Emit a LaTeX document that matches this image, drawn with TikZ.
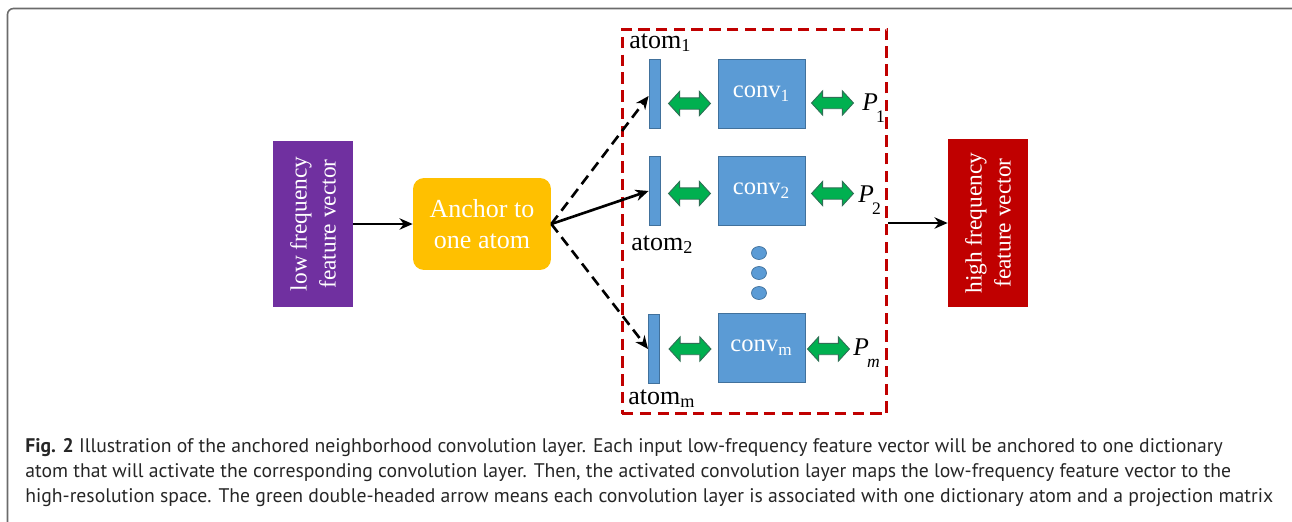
\documentclass[tikz,border=0pt]{standalone}
\usepackage{fontspec}
\setmainfont{Liberation Serif}
\newfontfamily\capfont{PT Sans}
\usetikzlibrary{arrows.meta,shapes.arrows,shapes.geometric}
\definecolor{lowpurple}{HTML}{7030A0}
\definecolor{anchorgold}{HTML}{FFC000}
\definecolor{highred}{HTML}{C00000}
\definecolor{convblue}{HTML}{5B9BD5}
\definecolor{convedge}{HTML}{41719C}
\definecolor{arrgreen}{HTML}{00B050}
\definecolor{arredge}{HTML}{2F6F55}
\definecolor{framegray}{HTML}{6B6B6B}
\newcommand\fs[2]{\fontsize{#1}{#2}\selectfont}
\tikzset{
  vecbox/.style={rectangle, rotate=90, inner sep=0pt, text=white, align=center,
     font=\fs{13.3pt}{16.5pt}},
  anchorbox/.style={rectangle, rounded corners=0.22cm, fill=anchorgold, inner sep=0pt,
     minimum width=2.76cm, minimum height=1.84cm, text=white, align=center, font=\fs{14.8pt}{17.6pt}},
  atombar/.style={rectangle, fill=convblue, draw=convedge, line width=0.5pt, inner sep=0pt,
     minimum width=0.22cm, minimum height=1.38cm},
  convbox/.style={rectangle, fill=convblue, draw=convedge, line width=0.3pt, inner sep=0pt,
     minimum width=1.74cm, minimum height=1.38cm, text=white, font=\fs{14pt}{16pt}},
  dblarr/.style={double arrow, fill=arrgreen, draw=arredge, line width=0.5pt, inner xsep=0pt,
     inner ysep=0.105cm, minimum height=0.84cm, double arrow head extend=0.13cm,
     double arrow tip angle=95},
  dotball/.style={ellipse, fill=convblue, draw=convedge, line width=0.4pt, inner sep=0pt,
     minimum width=0.3cm, minimum height=0.26cm},
  lbl/.style={inner sep=0pt, anchor=base west, font=\fs{14.8pt}{17pt}},
  plbl/.style={inner sep=0pt, anchor=base west, font=\fs{14.5pt}{17pt}},
  conn/.style={line width=1.5pt, -{Stealth[length=7.5pt,width=6.5pt]}},
  dconn/.style={conn, dash pattern=on 6pt off 3.5pt},
  capline/.style={inner sep=0pt, anchor=base west, font=\capfont\fs{11.2pt}{13pt}, text=black!85}
}
\begin{document}
\begin{tikzpicture}[x=0.02cm, y=-0.02cm]
\useasboundingbox (0,0) rectangle (1292,521);
% outer frame
\draw[framegray, line width=0.9pt, rounded corners=0.12cm] (7.5,540) -- (7.5,8.5) -- (1310,8.5);

% input / output vectors
\node[vecbox, fill=lowpurple, minimum width=3.32cm, minimum height=1.6cm] (low) at (313,224)
  {low frequency\\feature vector};
\node[anchorbox] (anc) at (482,224) {Anchor to\\one atom};
\node[vecbox, fill=highred, minimum width=3.36cm, minimum height=1.6cm] (high) at (988,223)
  {high frequency\\feature vector};

% dashed group
\node[rectangle, draw=highred, line width=1.7pt, dash pattern=on 6.5pt off 3.6pt,
  minimum width=5.3cm, minimum height=7.7cm, inner sep=0pt] (grp) at (754.5,221.5) {};

% atoms
\node[atombar] (a1) at (654.5,93.5) {};
\node[atombar] (a2) at (654.5,191) {};
\node[atombar] (am) at (654,349) {};
\node[lbl] (la1) at (629,48) {atom\textsubscript{1}};
\node[lbl] (la2) at (631,250) {atom\textsubscript{2}};
\node[lbl] (lam) at (628,404) {atom\textsubscript{m}};

% conv boxes
\node[convbox] (c1) at (761.5,93.5) {conv\textsubscript{1}};
\node[convbox] (c2) at (761.5,190.5) {conv\textsubscript{2}};
\node[convbox] (cm) at (761.5,348) {conv\textsubscript{m}};

% dots
\node[dotball] (d1) at (759,253) {};
\node[dotball] (d2) at (759,273) {};
\node[dotball] (d3) at (759,293) {};

% green double arrows
\node[dblarr] (g1l) at (689.5,103.5) {};
\node[dblarr] (g1r) at (832.5,103) {};
\node[dblarr] (g2l) at (689.5,193.5) {};
\node[dblarr] (g2r) at (832.5,193.5) {};
\node[dblarr] (gml) at (690,349) {};
\node[dblarr] (gmr) at (828.5,349) {};

% P labels
\node[plbl] (p1) at (862,110) {\textit{P}\kern-1pt\raisebox{-1.1ex}{\fs{10pt}{12pt}1}};
\node[plbl] (p2) at (858,202) {\textit{P}\kern-1pt\raisebox{-1.1ex}{\fs{10pt}{12pt}2}};
\node[plbl] (pm) at (853,355) {\textit{P}\kern-1pt\raisebox{-1.1ex}{\fs{10pt}{12pt}\textit{m}}};

% connectors
\draw[conn] (low.south) -- (anc.west);
\draw[dconn] (anc.east) -- ([yshift=-0.05cm]a1.west);
\draw[conn] (anc.east) -- (a2.west);
\draw[dconn] (anc.east) -- (am.west);
\draw[conn] ([yshift=-0.03cm]grp.east) -- ([yshift=-0.03cm]grp.east -| high.north);

% caption
\node[capline] (cap1) at (25,452) {\textbf{Fig. 2} Illustration of the anchored neighborhood convolution layer. Each input low-frequency feature vector will be anchored to one dictionary};
\node[capline] (cap2) at (25,477) {atom that will activate the corresponding convolution layer. Then, the activated convolution layer maps the low-frequency feature vector to the};
\node[capline] (cap3) at (25,502) {high-resolution space. The green double-headed arrow means each convolution layer is associated with one dictionary atom and a projection matrix};
\end{tikzpicture}
\end{document}
